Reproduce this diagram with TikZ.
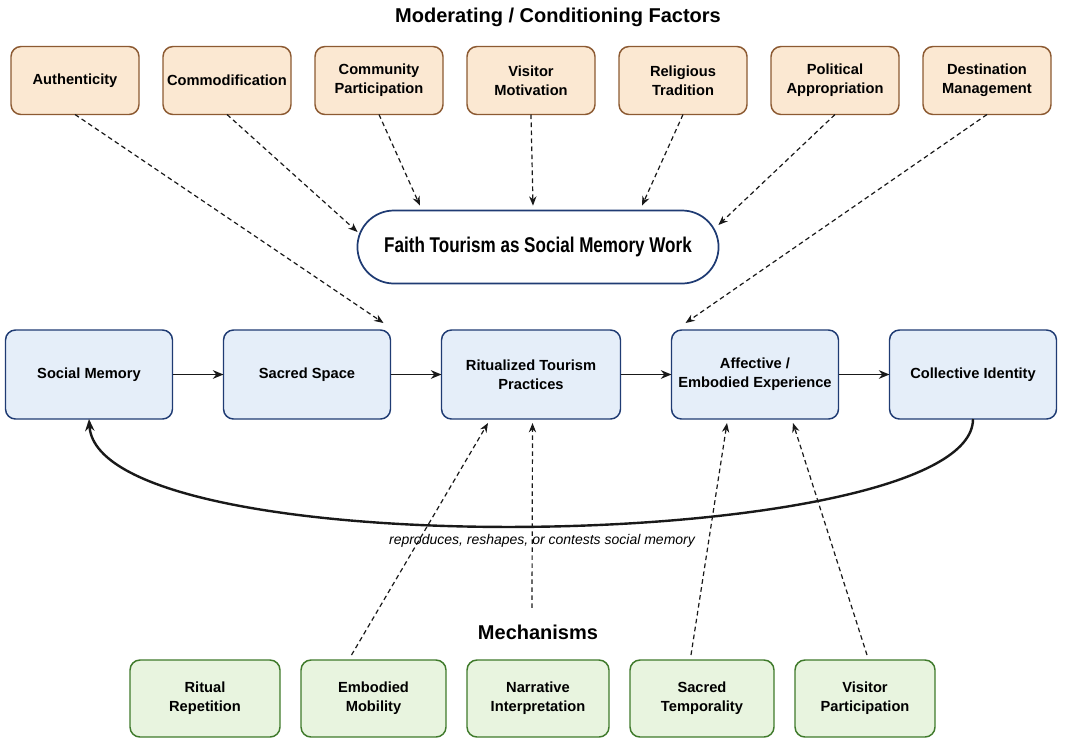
\documentclass[tikz,border=0pt]{standalone}
\usepackage{fontspec}
\setmainfont{Liberation Sans}
\newfontfamily\narrowsans{Liberation Sans}[FakeStretch=0.8]
\usetikzlibrary{positioning,calc,arrows.meta,shapes.misc}
\definecolor{factorfill}{HTML}{FBE8D2}
\definecolor{factordraw}{HTML}{8C5A32}
\definecolor{stagefill}{HTML}{E5EEF9}
\definecolor{stagedraw}{HTML}{1F3B73}
\definecolor{mechfill}{HTML}{E8F4DF}
\definecolor{mechdraw}{HTML}{3F7A2B}
\colorlet{arrowcol}{black!90}
\newcommand{\boxfont}{\fontsize{11}{14.5}\selectfont\bfseries}
\newcommand{\loopnote}{reproduces, reshapes, or contests social memory}

\begin{document}
\begin{tikzpicture}[x=0.75pt,y=-0.75pt,
	any/.style={rounded corners=7.5pt,line width=1.1pt,align=center,%
		inner sep=2pt,outer sep=0pt,font=\boxfont},
	factor/.style={any,draw=factordraw,fill=factorfill,minimum width=96pt,minimum height=51pt},
	stage/.style={any,draw=stagedraw,fill=stagefill,minimum width=125.25pt,minimum height=66.75pt},
	mechbox/.style={any,draw=mechdraw,fill=mechfill,minimum height=57.75pt},
	core/.style={rounded rectangle,draw=stagedraw,line width=1.3pt,fill=white,%
		minimum width=277.5pt,minimum height=54.75pt,%
		font=\narrowsans\fontsize{16}{19}\selectfont\bfseries},
	heading/.style={font=\fontsize{15}{18}\selectfont\bfseries},
	flow/.style={-{Stealth[length=8pt,width=6.5pt]},line width=1.1pt,arrowcol},
	influence/.style={-{Stealth[length=7pt,width=5.5pt]},line width=0.9pt,arrowcol,%
		dash pattern=on 3.5pt off 2.5pt},
	feedback/.style={-{Stealth[length=9pt,width=7pt]},line width=1.8pt,arrowcol}
	]
	\useasboundingbox (0,0) rectangle (1065,744);

	% factors
	\node[heading] (factitle) at (558,17) {Moderating / Conditioning Factors};
	\node[factor] (auth) at (75,80.5) {Authenticity};
	\node[factor,right=18pt of auth] (commod) {Commodification};
	\node[factor,right=18pt of commod] (commun) {Community\\Participation};
	\node[factor,right=18pt of commun] (motiv) {Visitor\\Motivation};
	\node[factor,right=18pt of motiv] (relig) {Religious\\Tradition};
	\node[factor,right=18pt of relig] (polit) {Political\\Appropriation};
	\node[factor,right=18pt of polit] (destin) {Destination\\Management};

	\node[core] (faith) at (538,247) {Faith Tourism as Social Memory Work};

	% main chain
	\node[stage] (memory) at (89,374.5) {Social Memory};
	\node[stage,right=38.25pt of memory] (space) {Sacred Space};
	\node[stage,right=38.25pt of space,minimum width=134.25pt] (ritual) {Ritualized Tourism\\Practices};
	\node[stage,right=38.25pt of ritual] (affect) {Affective /\\Embodied Experience};
	\node[stage,right=38.25pt of affect] (identity) {Collective Identity};

	% mechanisms
	\node[heading] (mechtitle) at (538,632) {Mechanisms};
	\node[mechbox,minimum width=112.5pt] (repet) at (205,698.5) {Ritual\\Repetition};
	\node[mechbox,minimum width=108.75pt,right=15.75pt of repet] (mobil) {Embodied\\Mobility};
	\node[mechbox,minimum width=106.5pt,right=15.75pt of mobil] (narr) {Narrative\\Interpretation};
	\node[mechbox,minimum width=108pt,right=15.75pt of narr] (tempo) {Sacred\\Temporality};
	\node[mechbox,minimum width=105pt,right=15.75pt of tempo] (partic) {Visitor\\Participation};

	\foreach \a/\b in {memory/space,space/ritual,ritual/affect,affect/identity}
		\draw[flow] (\a) -- (\b);

	% factors -> core and chain
	\draw[influence] (auth.south) -- ($(space.north east)+(-7,-7)$);
	\draw[influence] (commod.south) -- ($(faith.west)+(1,-15)$);
	\draw[influence] (commun.south) -- ($(faith.north)+(-118,-4)$);
	\draw[influence] (motiv.south) -- ($(faith.north)+(-5,-4)$);
	\draw[influence] (relig.south) -- ($(faith.north)+(104,-4)$);
	\draw[influence] (polit.south) -- ($(faith.east)+(-1,-22)$);
	\draw[influence] (destin.south) -- ($(affect.north west)+(14,-7)$);

	% mechanisms -> chain
	\draw[influence] ($(mobil.north)+(-22,-5)$) -- ($(ritual.south)+(-43,4)$);
	\draw[influence] ($(mechtitle.north)+(-6,-12)$) -- ($(ritual.south)+(1.5,4)$);
	\draw[influence] ($(tempo.north)+(-11,-5)$) -- ($(affect.south)+(-28,4)$);
	\draw[influence] ($(partic.north)+(2,-5)$) -- ($(affect.south)+(38,4)$);

	% feedback loop
	\draw[feedback] (identity.south) .. controls +(0,135) and +(10,150) .. (memory.south);
	\node[font=\fontsize{10.5}{12}\selectfont\itshape] (note) at (542,541) {\loopnote};
\end{tikzpicture}
\end{document}
